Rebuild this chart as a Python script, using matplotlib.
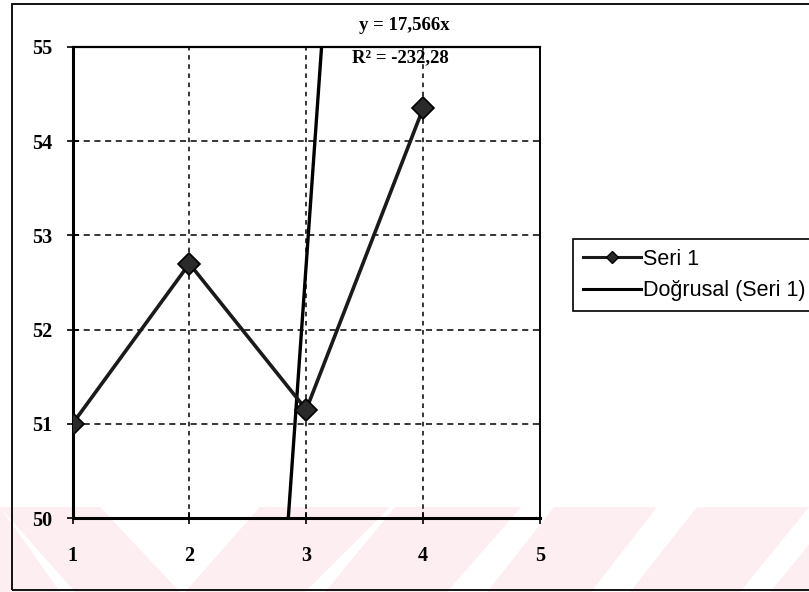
import matplotlib
matplotlib.use("Agg")
from matplotlib import pyplot as plt
from matplotlib.patches import Polygon, Rectangle
from matplotlib.lines import Line2D

# series values
x_vals = [1, 2, 3, 4]
seri1 = [51.0, 52.7, 51.15, 54.35]

# linear trendline through origin, as reported by the chart
slope = 17.566
r_squared = -232.28

x_ticks = [1, 2, 3, 4, 5]
y_ticks = [50, 51, 52, 53, 54, 55]

W, H = 809, 592
serif = {"family": "Liberation Serif", "weight": "bold"}


def px(x, y):
    # pixel position (from top-left) -> figure fraction
    return (x / W, 1 - y / H)


fig = plt.figure(figsize=(W / 100, H / 100), dpi=100, facecolor="white")

# pale stamp stripes along the bottom of the page
stripes = [
    (-80, 0, -10, 60),
    (0, 100, 75, 180),
    (260, 390, 185, 305),
    (395, 521, 325, 447),
    (554, 657, 487, 591),
    (697, 809, 630, 740),
    (840, 950, 770, 880),
]
for tx0, tx1, bx0, bx1 in stripes:
    pts = [px(tx0, 507), px(tx1, 507), px(bx1, 592), px(bx0, 592)]
    fig.patches.append(Polygon(pts, closed=True, transform=fig.transFigure,
                               facecolor="#fdeef1", edgecolor="none", zorder=-5))

# outer chart frame
x0, y0 = px(12, 590)
fig.patches.append(Rectangle((x0, y0), 1.2, px(0, 4)[1] - y0, transform=fig.transFigure,
                             facecolor="none", edgecolor="black", linewidth=1.3, zorder=-1))

ax = fig.add_axes([72.5 / W, 74 / H, (540 - 72.5) / W, (518 - 47) / H])
ax.set_facecolor("none")

# series
ax.plot(x_vals, seri1, color="#1a1a1a", linewidth=2.6, marker="D", markersize=11,
        markerfacecolor="#2a2a2a", markeredgecolor="black", markeredgewidth=1.2,
        label="Seri 1", zorder=4)

# trendline over the data range
trend_x = [x_vals[0], x_vals[-1]]
trend_y = [slope * v for v in trend_x]
ax.plot(trend_x, trend_y, color="black", linewidth=2.4, label="Doğrusal (Seri 1)", zorder=3)

ax.set_xlim(1, 5)
ax.set_ylim(50, 55)
ax.set_xticks(x_ticks)
ax.set_yticks(y_ticks)

for v in x_ticks[1:-1]:
    ax.axvline(v, color="black", linewidth=1.1, linestyle=(0, (3, 3)), zorder=1)
for v in y_ticks[1:-1]:
    ax.axhline(v, color="black", linewidth=1.1, linestyle=(0, (4, 3)), zorder=1)

for side, lw in [("left", 2.2), ("bottom", 2.2), ("top", 1.6), ("right", 1.4)]:
    ax.spines[side].set_linewidth(lw)
    ax.spines[side].set_color("black")

ax.tick_params(axis="both", direction="inout", length=9, width=1.2, colors="black")
ax.tick_params(axis="y", pad=10)
ax.tick_params(axis="x", pad=16)
for lab in ax.get_xticklabels() + ax.get_yticklabels():
    lab.set_fontfamily(serif["family"])
    lab.set_fontweight(serif["weight"])
    lab.set_fontsize(14.5)

# trendline equation
eq = "y = {:.3f}x".format(slope).replace(".", ",")
r2 = "R² = {:.2f}".format(r_squared).replace(".", ",")
fig.text(*px(404, 26), eq, ha="center", va="center", fontsize=13.5, **serif)
fig.text(*px(400, 58), r2, ha="center", va="center", fontsize=13.5, **serif)

handles = [
    Line2D([], [], color="#1a1a1a", linewidth=2.2, marker="D", markersize=6,
           markerfacecolor="#2a2a2a", markeredgecolor="black"),
    Line2D([], [], color="black", linewidth=2.2),
]
leg = fig.legend(handles, ["Seri 1", "Doğrusal (Seri 1)"], loc="center left",
                 bbox_to_anchor=px(573, 275), frameon=True, fancybox=False,
                 edgecolor="black", framealpha=1, borderpad=0.45, borderaxespad=0,
                 handlelength=2.7, handletextpad=0.1, labelspacing=0.5,
                 prop={"family": "Liberation Sans", "size": 15.5})
leg.get_frame().set_linewidth(1.2)

fig.savefig("out.png", dpi=100, facecolor="white")
